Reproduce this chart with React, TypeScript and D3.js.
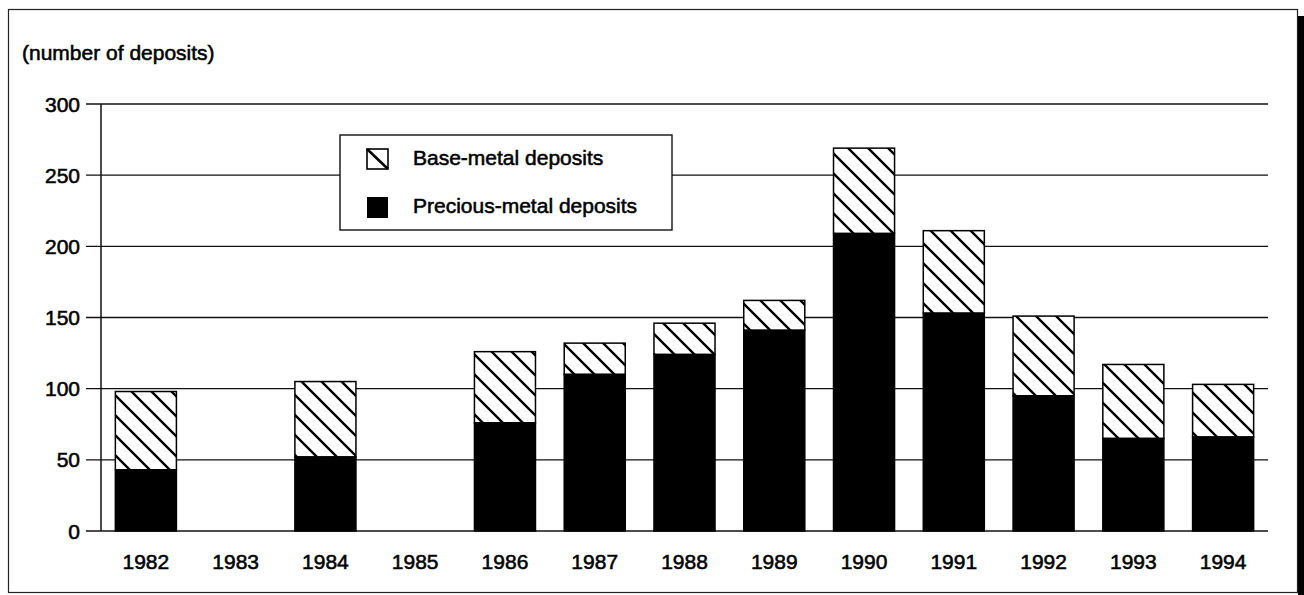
import React from 'react';
import * as d3 from 'd3';

const years = ['1982', '1983', '1984', '1985', '1986', '1987', '1988', '1989', '1990', '1991', '1992', '1993', '1994'];
// precious-metal deposits (bottom, solid)
const precious = [43, 0, 52, 0, 76, 110, 124, 141, 209, 153, 95, 65, 66];
// total deposits (top of stacked bar)
const totals = [98, 0, 105, 0, 126, 132, 146, 162, 269, 211, 151, 117, 103];
const yTicks = [0, 50, 100, 150, 200, 250, 300];
const legendLabels = ['Base-metal deposits', 'Precious-metal deposits'];

const W = 1304;
const H = 595;
const font = '"Liberation Sans", Arial, sans-serif';
// scanned print looks heavier than plain regular weight
const txt = { fontSize: 21, fill: '#000', stroke: '#000', strokeWidth: 0.55 };

const App = () => {
  const x = d3.scaleBand().domain(years).range([101, 1268]).paddingInner(0.32).paddingOuter(0.16);
  const y = d3.scaleLinear().domain([0, 300]).range([531, 104]);

  return (
    <svg width={W} height={H} style={{ position: 'absolute', left: 0, top: 0 }} fontFamily={font}>
      <defs>
        <pattern id="hatch" patternUnits="userSpaceOnUse" width={20} height={20}>
          <rect width={20} height={20} fill="#fff" />
          <path d="M-5,-5 L25,25 M-15,5 L5,25 M5,-15 L25,5" stroke="#000" strokeWidth={2.4} />
        </pattern>
      </defs>
      <rect x={0} y={0} width={W} height={H} fill="#fff" />

      {/* frame + shadow */}
      <rect x={8.5} y={9.5} width={1289} height={583} fill="none" stroke="#222" strokeWidth={1.2} />
      <rect x={1298} y={16} width={6} height={H} fill="#000" />

      <text x={22} y={60} {...txt}>(number of deposits)</text>

      {/* grid + ticks */}
      {yTicks.map((t) => (
        <g key={t}>
          <line x1={86} x2={1268} y1={y(t)} y2={y(t)} stroke="#111" strokeWidth={1.4} />
          <text x={80} y={y(t)} dy="0.36em" textAnchor="end" {...txt}>{t}</text>
        </g>
      ))}
      <line x1={101} x2={101} y1={y(300)} y2={y(0)} stroke="#111" strokeWidth={1.5} />

      {/* bars */}
      {years.map((yr, i) => {
        if (totals[i] === 0) return null;
        const bx = x(yr) as number;
        const bw = x.bandwidth();
        return (
          <g key={yr}>
            <rect x={bx} y={y(totals[i])} width={bw} height={y(precious[i]) - y(totals[i])}
              fill="url(#hatch)" stroke="#000" strokeWidth={1.5} />
            <rect x={bx} y={y(precious[i])} width={bw} height={y(0) - y(precious[i])}
              fill="#000" stroke="#000" strokeWidth={1.5} />
          </g>
        );
      })}

      {/* x labels */}
      {years.map((yr) => (
        <text key={yr} x={(x(yr) as number) + x.bandwidth() / 2} y={569} textAnchor="middle" {...txt}>
          {yr}
        </text>
      ))}

      {/* legend */}
      <rect x={340} y={135} width={332} height={95} fill="#fff" stroke="#111" strokeWidth={1.4} />
      <rect x={367} y={149} width={21} height={20} fill="#fff" stroke="#000" strokeWidth={1.6} />
      <line x1={367} y1={149} x2={388} y2={169} stroke="#000" strokeWidth={2.6} />
      <text x={413} y={165} {...txt}>{legendLabels[0]}</text>
      <rect x={367} y={197} width={21} height={21} fill="#000" />
      <text x={413} y={213} {...txt}>{legendLabels[1]}</text>
    </svg>
  );
};

export default App;
